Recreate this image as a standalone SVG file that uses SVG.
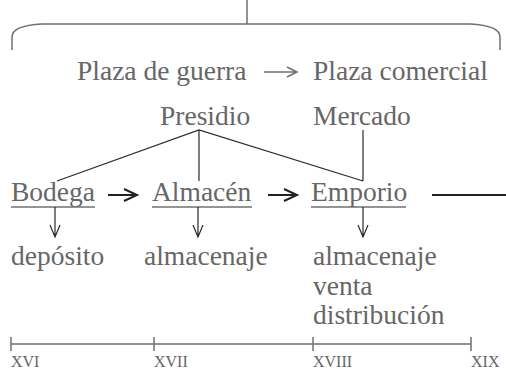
<svg xmlns="http://www.w3.org/2000/svg" width="506" height="369" viewBox="0 0 506 369" font-family="'Liberation Serif', 'Times New Roman', Times, serif">
<style>
text{font-family:"Liberation Serif","Times New Roman",Times,serif;fill:#666}
.t{font-size:27.5px}
.s{font-size:16px}
.ln{stroke:#707070;stroke-width:1.5;fill:none}
.dk{stroke:#2a2a2a;stroke-width:1.2;fill:none}
.bd{stroke:#222;stroke-width:2;fill:none}
</style>
<rect width="506" height="369" fill="#fff"/>
<g id="brace">
<path class="ln" d="M247,0 V24 M42,24 H470 M42,24 C22,25 12,29 12,37 V50 M470,24 C490,25 500,29 500,37 V50"/>
</g>
<g id="plaza-guerra"><text class="t" x="77" y="80">Plaza de guerra</text></g>
<g id="plaza-comercial"><text class="t" x="313" y="80">Plaza comercial</text></g>
<g id="presidio"><text class="t" x="160" y="125">Presidio</text></g>
<g id="mercado"><text class="t" x="313" y="125">Mercado</text></g>
<g id="bodega"><text class="t" x="11" y="201">Bodega</text><line class="ln" x1="11" y1="207" x2="95" y2="207"/></g>
<g id="almacen"><text class="t" x="152" y="201">Almacén</text><line class="ln" x1="152" y1="207" x2="252" y2="207"/></g>
<g id="emporio"><text class="t" x="311" y="201">Emporio</text><line class="ln" x1="311" y1="207" x2="406" y2="207"/></g>
<g id="deposito"><text class="t" x="11" y="265">depósito</text></g>
<g id="almacenaje1"><text class="t" x="144" y="265">almacenaje</text></g>
<g id="funciones"><text class="t" x="313" y="265">almacenaje</text><text class="t" x="313" y="295">venta</text><text class="t" x="313" y="324">distribución</text></g>
<g id="timeline">
<path class="ln" d="M11,344 H471 M11,337 V351 M154,337 V351 M313,337 V351 M471,337 V351"/>
<text class="s" x="11" y="367">XVI</text>
<text class="s" x="154" y="367">XVII</text>
<text class="s" x="313" y="367">XVIII</text>
<text class="s" x="471" y="367">XIX</text>
</g>
<g id="connectors">
<path class="ln" d="M264,72 H296 M287,67 L297,72 L287,77"/>
<path class="dk" d="M57,181 L199,130 L363,181 M199,130 V181 M363,130 V181"/>
<path class="bd" d="M108,195 H136 M124,189 L137,195 L124,201"/>
<path class="bd" d="M268,195 H296 M284,189 L297,195 L284,201"/>
<path class="bd" d="M432,195 H506"/>
<path class="dk" d="M55,207 V237 M50,225 L55,237 L60,225"/>
<path class="dk" d="M198,207 V237 M193,225 L198,237 L203,225"/>
<path class="dk" d="M363,207 V237 M358,225 L363,237 L368,225"/>
</g>
</svg>
